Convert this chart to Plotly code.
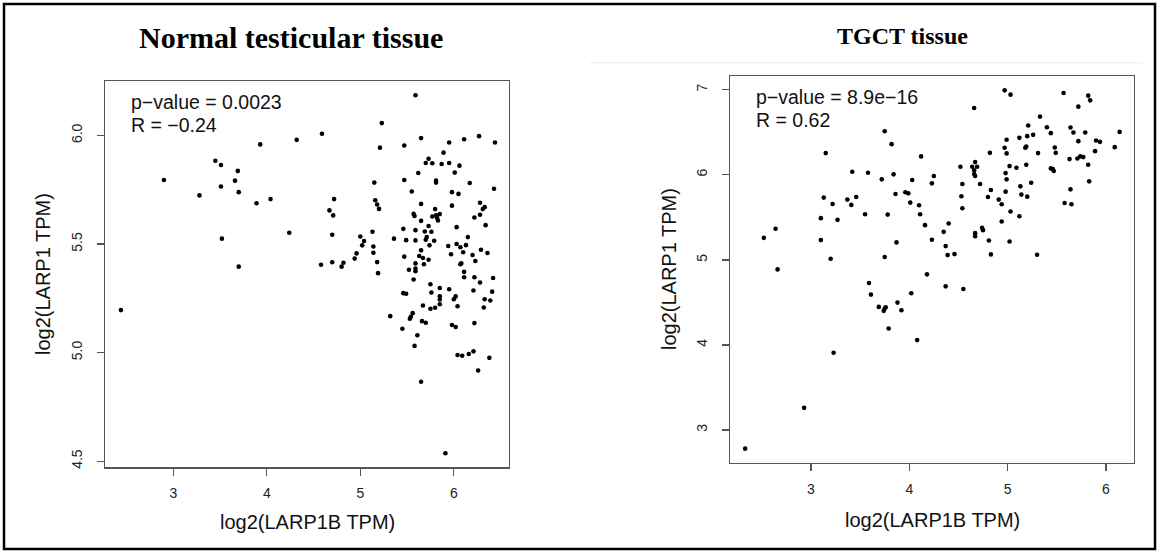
import plotly.graph_objects as go

# ---------------- data ----------------
normal_title = "Normal testicular tissue"
tgct_title = "TGCT tissue"
x_label = "log2(LARP1B TPM)"
y_label = "log2(LARP1 TPM)"
normal_stats = ["p\u2212value = 0.0023", "R = \u22120.24"]
tgct_stats = ["p\u2212value = 8.9e\u221216", "R = 0.62"]

normal_xticks = [3, 4, 5, 6]
normal_yticks = [4.5, 5.0, 5.5, 6.0]
normal_yticktext = ["4.5", "5.0", "5.5", "6.0"]
tgct_xticks = [3, 4, 5, 6]
tgct_yticks = [3, 4, 5, 6, 7]

normal_x = [5.59, 5.23, 4.59, 5.21, 5.47, 5.65, 5.95, 6.11, 6.27, 6.44,
            5.89, 5.73, 5.70, 5.77, 5.87, 5.95, 6.06, 6.01, 5.62, 5.15,
            5.47, 5.81, 5.81, 6.17, 6.43, 5.55, 5.98, 6.05, 4.72, 5.16,
            5.18, 5.20, 4.67, 4.71, 5.65, 5.98, 5.80, 5.57, 5.58, 5.77,
            5.81, 5.85, 5.82, 5.83, 5.65, 6.28, 6.33, 6.31, 6.28, 6.22,
            6.34, 5.73, 6.03, 4.70, 5.13, 5.00, 5.04, 5.02, 5.14, 5.14,
            4.96, 4.94, 5.18, 5.19, 4.58, 4.70, 4.82, 4.80, 5.36, 5.46,
            5.49, 5.59, 5.59, 5.69, 5.76, 5.71, 5.70, 5.79, 5.74, 5.65,
            5.63, 5.67, 5.73, 5.68, 5.59, 5.47, 5.94, 6.03, 6.07, 6.13,
            6.15, 6.10, 5.97, 6.29, 6.36, 6.20, 6.23, 6.07, 6.08, 5.52,
            5.59, 5.59, 5.57, 6.11, 6.11, 6.22, 6.28, 6.42, 5.75, 5.76,
            5.85, 5.95, 5.46, 5.49, 5.85, 5.85, 6.02, 6.00, 6.21, 6.41,
            6.33, 6.39, 5.85, 5.80, 5.75, 5.67, 6.04, 6.32, 5.32, 5.56,
            5.54, 5.53, 5.45, 5.66, 5.70, 5.98, 6.02, 6.22, 5.61, 5.58,
            6.04, 6.09, 6.16, 6.21, 6.38, 6.26, 5.65, 5.91,
            2.90, 3.28, 3.45, 3.51, 3.51, 3.52, 3.66, 3.69, 3.70, 3.70,
            3.89, 3.93, 4.04, 4.24, 4.32, 2.44]

normal_y = [6.185, 6.057, 6.008, 5.944, 5.954, 5.988, 5.968, 5.983, 5.997, 5.968,
            5.921, 5.893, 5.873, 5.872, 5.869, 5.873, 5.861, 5.829, 5.827, 5.783,
            5.795, 5.792, 5.783, 5.781, 5.755, 5.742, 5.739, 5.731, 5.707, 5.702,
            5.682, 5.662, 5.655, 5.632, 5.685, 5.677, 5.661, 5.639, 5.629, 5.627,
            5.633, 5.638, 5.621, 5.609, 5.607, 5.690, 5.670, 5.661, 5.635, 5.622,
            5.587, 5.583, 5.578, 5.543, 5.557, 5.535, 5.514, 5.494, 5.489, 5.460,
            5.457, 5.433, 5.417, 5.366, 5.405, 5.416, 5.414, 5.396, 5.525, 5.570,
            5.518, 5.517, 5.564, 5.558, 5.557, 5.532, 5.520, 5.515, 5.494, 5.471,
            5.445, 5.436, 5.428, 5.407, 5.411, 5.442, 5.491, 5.500, 5.485, 5.495,
            5.532, 5.462, 5.453, 5.474, 5.459, 5.450, 5.422, 5.407, 5.411, 5.382,
            5.387, 5.375, 5.337, 5.372, 5.347, 5.347, 5.323, 5.344, 5.315, 5.277,
            5.298, 5.292, 5.274, 5.271, 5.260, 5.245, 5.259, 5.246, 5.286, 5.281,
            5.246, 5.240, 5.223, 5.207, 5.202, 5.217, 5.214, 5.208, 5.168, 5.182,
            5.165, 5.156, 5.110, 5.145, 5.138, 5.127, 5.118, 5.136, 5.080, 5.031,
            4.989, 4.986, 4.994, 5.006, 4.976, 4.918, 4.866, 4.537,
            5.795, 5.724, 5.884, 5.864, 5.765, 5.525, 5.792, 5.837, 5.739, 5.396,
            5.688, 5.959, 5.707, 5.552, 5.980, 5.196]

tgct_x = [2.33, 2.93, 3.23, 2.52, 2.64, 2.66, 3.15, 3.13, 3.10, 3.10,
          3.20, 3.22, 3.27, 3.37, 3.41, 3.46, 3.42, 3.58, 3.55, 3.72,
          3.75, 3.82, 3.84, 3.86, 3.78, 3.87, 3.75, 3.59, 3.61, 3.69,
          3.75, 3.74, 3.76, 3.88, 3.92, 3.79, 4.08, 4.02, 4.18, 3.96,
          3.99, 4.01, 4.03, 4.12, 4.10, 4.11, 4.16, 4.23, 4.23, 4.25,
          4.35, 4.40, 4.37, 4.39, 4.46, 4.37, 4.55, 4.52, 4.54, 4.53,
          4.54, 4.66, 4.64, 4.67, 4.69, 4.66, 4.66, 4.67, 4.72, 4.67,
          4.67, 4.74, 4.75, 4.81, 4.83, 4.82, 4.83, 4.80, 4.91, 4.94,
          4.94, 4.97, 4.99, 4.99, 4.98, 4.99, 4.98, 5.02, 5.09, 5.03,
          5.02, 4.97, 5.03, 5.12, 5.20, 5.21, 5.26, 5.18, 5.19, 5.19,
          5.13, 5.14, 5.20, 5.24, 5.12, 5.30, 5.31, 5.33, 5.40, 5.44,
          5.48, 5.49, 5.44, 5.46, 5.47, 5.57, 5.64, 5.67, 5.72, 5.82,
          5.84, 5.79, 5.72, 5.63, 5.71, 5.74, 5.77, 5.82, 5.89, 5.90,
          5.94, 6.09, 6.14, 5.83, 5.64, 5.58, 5.65]

tgct_y = [2.781, 3.261, 3.909, 5.259, 5.365, 4.888, 6.255, 5.732, 5.490, 5.232,
          5.013, 5.657, 5.470, 5.708, 5.646, 5.739, 6.036, 6.024, 5.536, 5.946,
          6.512, 6.360, 6.005, 5.774, 5.532, 5.205, 5.033, 4.728, 4.592, 4.447,
          4.428, 4.401, 4.443, 4.498, 4.408, 4.194, 4.057, 4.607, 4.830, 5.794,
          5.782, 5.673, 5.938, 6.216, 5.642, 5.536, 5.408, 5.236, 5.899, 5.985,
          5.329, 5.427, 5.162, 5.056, 5.068, 4.689, 4.658, 6.095, 5.892, 5.747,
          5.607, 6.785, 6.095, 6.149, 6.095, 6.052, 6.009, 5.985, 5.892, 5.314,
          5.279, 5.376, 5.349, 5.228, 5.064, 6.258, 5.821, 5.739, 5.708, 5.653,
          5.451, 6.317, 6.411, 6.251, 6.020, 5.946, 5.802, 6.102, 6.083, 5.568,
          5.216, 6.992, 6.942, 6.434, 6.454, 6.579, 6.469, 6.317, 6.333, 6.118,
          5.864, 5.767, 5.743, 5.907, 5.513, 5.060, 6.255, 6.684, 6.559, 6.489,
          6.321, 6.258, 6.075, 6.067, 6.044, 6.961, 6.555, 6.497, 6.801, 6.930,
          6.875, 6.497, 6.395, 6.184, 6.192, 6.216, 6.208, 6.118, 6.278, 6.403,
          6.387, 6.325, 6.504, 5.923, 5.829, 5.669, 5.653]

# ---------------- layout helpers ----------------
W, H = 1159, 555


def fx(p):
    return p / W


def fy(p):
    return 1 - p / H


SANS = "Liberation Sans, Arial, sans-serif"
SERIF = "Liberation Serif, Times New Roman, serif"
AX = "#555555"

axis_common = dict(showgrid=False, zeroline=False, showline=True, mirror=True,
                   linecolor=AX, linewidth=1.3, ticks="outside", ticklen=7,
                   tickwidth=1.3, tickcolor=AX,
                   tickfont=dict(family=SANS, size=14, color="#222222"))

fig = go.Figure()
marker = dict(color="black", size=4.6, line=dict(width=0))
fig.add_trace(go.Scatter(x=normal_x, y=normal_y, mode="markers", marker=marker,
                         xaxis="x", yaxis="y", showlegend=False, hoverinfo="skip"))
fig.add_trace(go.Scatter(x=tgct_x, y=tgct_y, mode="markers", marker=marker,
                         xaxis="x2", yaxis="y2", showlegend=False, hoverinfo="skip"))

fig.update_layout(
    width=W, height=H, autosize=False,
    margin=dict(l=0, r=0, t=0, b=0, pad=0),
    paper_bgcolor="white", plot_bgcolor="white",
    xaxis=dict(domain=[fx(105), fx(509)], range=[2.27, 6.59], tickvals=normal_xticks,
               anchor="y", ticklabelstandoff=6, **axis_common),
    yaxis=dict(domain=[fy(469), fy(81.7)], range=[4.472, 6.249], tickvals=normal_yticks,
               ticktext=normal_yticktext, tickangle=-90, anchor="x",
               ticklabelstandoff=9, **axis_common),
    xaxis2=dict(domain=[fx(730), fx(1134)], range=[2.176, 6.286], tickvals=tgct_xticks,
                anchor="y2", ticklabelstandoff=6, **axis_common),
    yaxis2=dict(domain=[fy(464.3), fy(76.7)], range=[2.617, 7.156], tickvals=tgct_yticks,
                tickangle=-90, anchor="x2", ticklabelstandoff=9, **axis_common),
)

ann = []
# titles
ann.append(dict(text="<b>%s</b>" % normal_title, x=fx(291), y=fy(38), xref="paper", yref="paper",
                xanchor="center", yanchor="middle", showarrow=False,
                font=dict(family=SERIF, size=30, color="black")))
ann.append(dict(text="<b>%s</b>" % tgct_title, x=fx(902), y=fy(36), xref="paper", yref="paper",
                xanchor="center", yanchor="middle", showarrow=False,
                font=dict(family=SERIF, size=24, color="black")))
# stats text
for i, t in enumerate(normal_stats):
    ann.append(dict(text=t, x=fx(129), y=fy(102.7 + 22.5 * i), xref="paper", yref="paper",
                    xanchor="left", yanchor="middle", showarrow=False,
                    font=dict(family=SANS, size=19.5, color="#111111")))
for i, t in enumerate(tgct_stats):
    ann.append(dict(text=t, x=fx(754), y=fy(97.7 + 22.5 * i), xref="paper", yref="paper",
                    xanchor="left", yanchor="middle", showarrow=False,
                    font=dict(family=SANS, size=19.5, color="#111111")))
# axis titles
ann.append(dict(text=x_label, x=fx(307), y=fy(524), xref="paper", yref="paper",
                xanchor="center", yanchor="middle", showarrow=False,
                font=dict(family=SANS, size=20, color="#111111")))
ann.append(dict(text=x_label, x=fx(932), y=fy(522), xref="paper", yref="paper",
                xanchor="center", yanchor="middle", showarrow=False,
                font=dict(family=SANS, size=20, color="#111111")))
ann.append(dict(text=y_label, x=fx(43), y=fy(275), xref="paper", yref="paper",
                xanchor="center", yanchor="middle", showarrow=False, textangle=-90,
                font=dict(family=SANS, size=20, color="#111111")))
ann.append(dict(text=y_label, x=fx(669), y=fy(270), xref="paper", yref="paper",
                xanchor="center", yanchor="middle", showarrow=False, textangle=-90,
                font=dict(family=SANS, size=20, color="#111111")))
fig.update_layout(annotations=ann)

fig.update_layout(shapes=[
    dict(type="rect", xref="paper", yref="paper", x0=fx(4), x1=fx(1155), y0=fy(551), y1=fy(4),
         line=dict(color="black", width=2.5), fillcolor="rgba(0,0,0,0)"),
    dict(type="line", xref="paper", yref="paper", x0=fx(590), x1=fx(1143), y0=fy(63), y1=fy(63),
         line=dict(color="#ececec", width=1)),
])

fig.write_html("out.html", config={"displayModeBar": False, "staticPlot": True},
               post_script="document.body.style.margin='0';document.body.style.padding='0';")
